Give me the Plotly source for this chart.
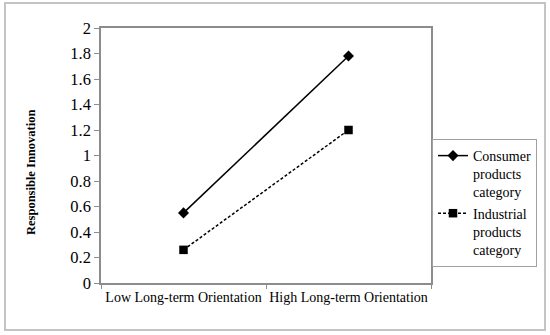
import plotly.graph_objects as go

categories = ["Low Long-term Orientation", "High Long-term Orientation"]
consumer = [0.55, 1.78]
industrial = [0.26, 1.20]
series_names = ["Consumer<br>products<br>category", "Industrial<br>products<br>category"]
y_ticks = [0, 0.2, 0.4, 0.6, 0.8, 1, 1.2, 1.4, 1.6, 1.8, 2]
y_tick_labels = ["0", "0.2", "0.4", "0.6", "0.8", "1", "1.2", "1.4", "1.6", "1.8", "2"]

FONT = "Liberation Serif, Times New Roman, serif"

fig = go.Figure()
fig.add_trace(go.Scatter(
    x=categories, y=consumer, name=series_names[0], mode="lines+markers",
    line=dict(color="black", width=1.5),
    marker=dict(symbol="diamond", size=8.5, color="black"),
))
fig.add_trace(go.Scatter(
    x=categories, y=industrial, name=series_names[1], mode="lines+markers",
    line=dict(color="black", width=1.5, dash="3px,2px"),
    marker=dict(symbol="square", size=8.5, color="black"),
))

W, H = 550, 335
plot_left, plot_right, plot_top, plot_bottom = 101, 431, 28, 283
L, R, T, B = plot_left, W - plot_right, plot_top, H - plot_bottom
pw, ph = plot_right - plot_left, plot_bottom - plot_top

def px_x(x):
    return (x - plot_left) / pw

def px_y(y):
    return (plot_bottom - y) / ph

fig.update_layout(
    template="none",
    width=W, height=H,
    margin=dict(l=L, r=R, t=T, b=B, autoexpand=False),
    paper_bgcolor="white", plot_bgcolor="white",
    font=dict(family=FONT, size=13.5, color="black"),
    showlegend=True,
    legend=dict(
        x=px_x(432), y=px_y(139), xanchor="left", yanchor="top",
        bordercolor="#a0a0a0", borderwidth=1, bgcolor="white",
        font=dict(family=FONT, size=14, color="black"),
        valign="top", tracegroupgap=0, itemwidth=30,
    ),
    xaxis=dict(
        type="category", range=[-0.5, 1.5], tickangle=0, automargin=False,
        showline=True, linecolor="#8c8c8c", linewidth=1.5, mirror=True,
        ticks="outside", tickson="boundaries", ticklen=4, tickcolor="#8c8c8c",
        showgrid=False, zeroline=False,
        tickfont=dict(family=FONT, size=14, color="black"),
    ),
    yaxis=dict(
        range=[0, 2], tickvals=y_ticks, ticktext=y_tick_labels, automargin=False,
        showline=True, linecolor="#8c8c8c", linewidth=1.5, mirror=True,
        ticks="outside", ticklen=5, tickcolor="#8c8c8c",
        showgrid=False, zeroline=False,
        tickfont=dict(family=FONT, size=16.5, color="black"),
    ),
    annotations=[dict(
        text="<b>Responsible Innovation</b>", textangle=-90,
        xref="paper", yref="paper", x=px_x(31), y=px_y(173),
        xanchor="center", yanchor="middle",
        showarrow=False, font=dict(family=FONT, size=12.5, color="black"),
    )],
    shapes=[dict(
        type="rect", xref="paper", yref="paper",
        x0=px_x(5), x1=px_x(545), y0=px_y(330), y1=px_y(3),
        line=dict(color="#c4c4c4", width=2), layer="below",
    )],
)

fig.write_html(
    "out.html",
    config={"displayModeBar": False},
    post_script="document.body.style.margin='0px';",
)
